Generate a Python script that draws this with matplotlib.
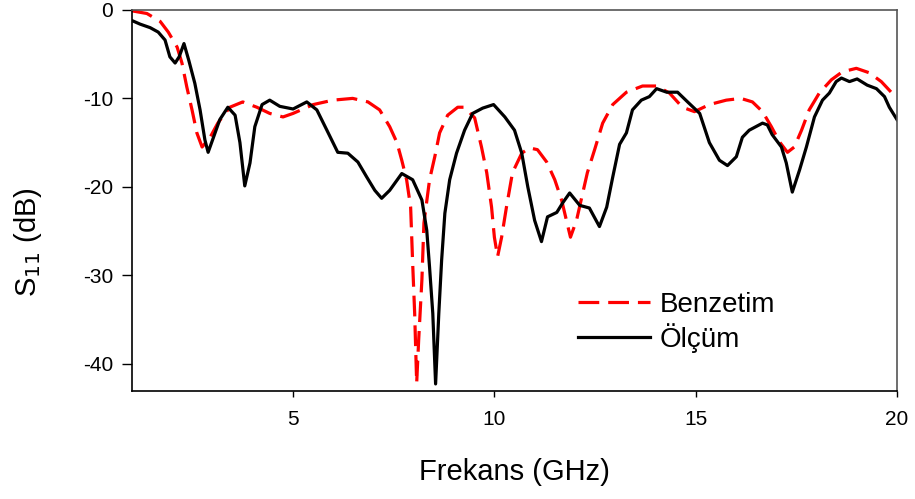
import numpy as np
import matplotlib
matplotlib.use('Agg')
import matplotlib.pyplot as plt

plt.rcParams['font.family'] = ['Liberation Sans', 'DejaVu Sans']
plt.rcParams['axes.unicode_minus'] = False

# simulated S11 (GHz, dB)
sim_f = [1.0, 1.37, 1.7, 1.9, 2.12, 2.24, 2.36, 2.49, 2.61, 2.74, 2.94, 3.13, 3.43, 3.75,
         4.1, 4.42, 4.75, 5.0, 5.5, 5.99, 6.48, 6.86, 7.15, 7.4, 7.58, 7.7, 7.82, 7.92,
         7.97, 8.02, 8.07, 8.12, 8.2, 8.25, 8.39, 8.52, 8.64, 8.84, 9.09, 9.26, 9.51,
         9.68, 9.81, 9.93, 10.0, 10.08, 10.18, 10.3, 10.45, 10.68, 10.87, 11.07, 11.3,
         11.5, 11.67, 11.79, 11.89, 12.04, 12.17, 12.31, 12.49, 12.69, 12.94, 13.28,
         13.68, 14.03, 14.35, 14.67, 14.97, 15.34, 15.76, 16.12, 16.41, 16.66, 16.88,
         17.08, 17.28, 17.45, 17.63, 17.82, 18.07, 18.37, 18.64, 18.99, 19.31, 19.61, 20.0]
sim_db = [-0.1, -0.4, -1.3, -2.5, -4.2, -6.0, -8.7, -11.3, -13.9, -15.5, -14.4, -12.8,
          -11.0, -10.4, -11.0, -11.7, -12.1, -11.7, -10.7, -10.2, -10.0, -10.4, -11.3,
          -13.2, -15.0, -17.0, -19.2, -22.3, -28.6, -34.3, -42.2, -37.3, -30.5, -24.1,
          -19.2, -16.6, -13.9, -11.9, -11.0, -11.0, -12.2, -15.5, -18.4, -22.3, -25.7,
          -27.9, -25.7, -22.3, -18.4, -16.2, -15.6, -15.8, -17.2, -19.2, -21.5, -23.8,
          -25.7, -23.8, -21.2, -18.4, -15.8, -12.8, -10.7, -9.3, -8.6, -8.6, -9.4,
          -11.0, -11.5, -10.7, -10.2, -10.0, -10.4, -11.5, -13.2, -14.9, -16.1, -15.5,
          -13.6, -11.3, -9.4, -7.9, -7.0, -6.6, -7.1, -8.1, -10.0]

# measured S11 (GHz, dB)
meas_f = [1.0, 1.2, 1.45, 1.65, 1.82, 1.94, 2.07, 2.17, 2.29, 2.41, 2.56, 2.69, 2.81,
          2.89, 3.0, 3.18, 3.38, 3.56, 3.68, 3.8, 3.93, 4.05, 4.23, 4.42, 4.67, 5.0,
          5.34, 5.59, 5.84, 6.11, 6.36, 6.61, 6.83, 7.03, 7.2, 7.4, 7.7, 7.97, 8.2,
          8.32, 8.39, 8.47, 8.54, 8.62, 8.69, 8.77, 8.89, 9.06, 9.26, 9.46, 9.71, 9.98,
          10.26, 10.5, 10.68, 10.83, 11.0, 11.17, 11.32, 11.55, 11.7, 11.87, 12.12,
          12.36, 12.61, 12.79, 12.94, 13.11, 13.28, 13.43, 13.65, 13.85, 14.03, 14.28,
          14.55, 14.8, 15.1, 15.34, 15.59, 15.79, 16.01, 16.16, 16.33, 16.66, 16.78,
          16.9, 17.13, 17.25, 17.4, 17.58, 17.75, 17.95, 18.15, 18.32, 18.49, 18.62,
          18.82, 19.01, 19.26, 19.49, 19.69, 19.81, 20.0]
meas_db = [-1.2, -1.6, -2.0, -2.5, -3.4, -5.3, -6.0, -5.3, -3.8, -5.7, -8.3, -11.3,
           -14.7, -16.1, -14.7, -12.4, -11.0, -11.9, -15.0, -19.9, -17.3, -13.2, -10.7,
           -10.2, -10.9, -11.2, -10.4, -11.3, -13.6, -16.1, -16.2, -17.2, -18.9, -20.4,
           -21.3, -20.4, -18.5, -19.2, -21.5, -24.9, -29.1, -34.3, -42.3, -34.3, -28.3,
           -23.0, -19.2, -16.2, -13.6, -11.7, -11.1, -10.7, -12.1, -13.6, -16.2, -20.0,
           -23.8, -26.2, -23.4, -22.9, -21.8, -20.7, -22.1, -22.4, -24.5, -22.3, -18.9,
           -15.2, -13.9, -11.3, -10.2, -9.8, -8.9, -9.3, -9.3, -10.4, -11.7, -15.0,
           -17.0, -17.6, -16.6, -14.4, -13.6, -12.8, -13.0, -14.1, -15.5, -17.3, -20.6,
           -18.1, -15.5, -12.1, -10.2, -9.4, -8.1, -7.7, -8.1, -7.8, -8.5, -8.9, -9.8,
           -11.0, -12.4]

x_ticks = [5, 10, 15, 20]
y_ticks = [0, -10, -20, -30, -40]

fig = plt.figure(figsize=(9.15, 4.99), dpi=100)
ax = fig.add_axes([0.1443, 0.2164, 0.8360, 0.7636])

ax.plot(sim_f, sim_db, color='#ff0000', lw=2.3, dashes=(6.5, 2.8),
        solid_joinstyle='round', label='Benzetim')
ax.plot(meas_f, meas_db, color='black', lw=2.3, solid_joinstyle='round', label='Ölçüm')

ax.set_xlim(1, 20)
ax.set_ylim(-43.1, 0)
ax.set_xticks(x_ticks)
ax.set_yticks(y_ticks)
ax.tick_params(axis='both', labelsize=15, width=1.0, color='black')
ax.tick_params(axis='y', length=7.5, pad=6)
ax.tick_params(axis='x', length=4, pad=10)

for side in ['left', 'bottom']:
    ax.spines[side].set_color('black')
    ax.spines[side].set_linewidth(1.2)
for side in ['top', 'right']:
    ax.spines[side].set_color('#555555')
    ax.spines[side].set_linewidth(1.2)

ax.set_xlabel('Frekans (GHz)', fontsize=21)
ax.set_ylabel('S$_{11}$ (dB)', fontsize=21)
ax.xaxis.set_label_coords(0.5, -0.176)
ax.yaxis.set_label_coords(-0.115, 0.39)

ax.legend(loc='center left', bbox_to_anchor=(0.583, 0.18), frameon=False,
          fontsize=20, handlelength=2.6, handletextpad=0.35, labelspacing=0.2,
          borderpad=0, borderaxespad=0)

fig.savefig('out.png', dpi=100)
